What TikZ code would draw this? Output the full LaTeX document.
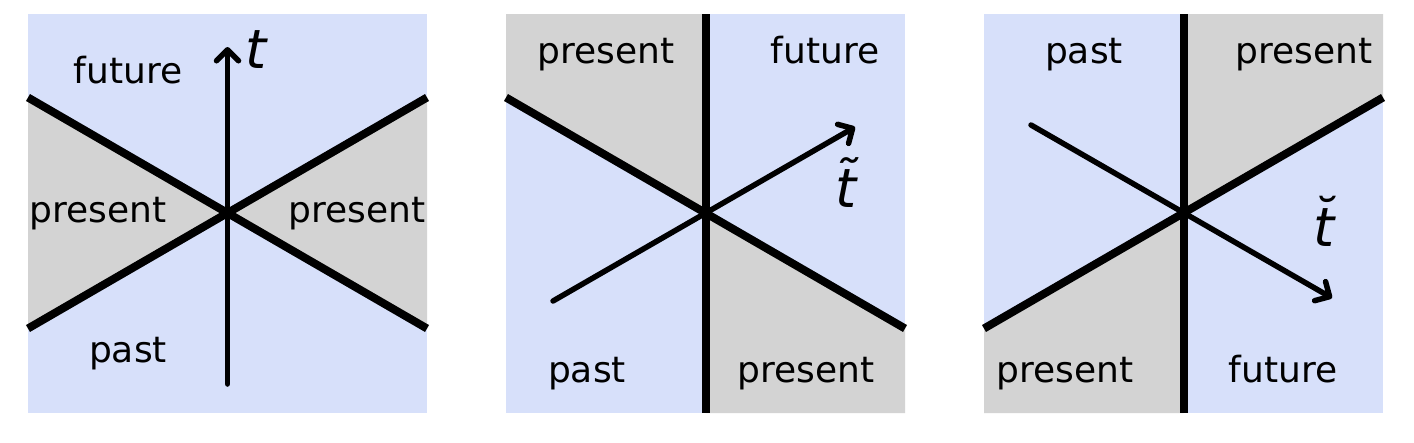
\documentclass[tikz,border=0pt]{standalone}
\usepackage{fontspec}
\setmainfont{DejaVu Sans}
\usetikzlibrary{arrows.meta}
\definecolor{skyb}{RGB}{215,224,250}
\definecolor{pres}{RGB}{211,211,211}
\tikzset{
  cone/.style={line width=8pt},
  axisarrow/.style={line width=5.5pt, line cap=round, -{Straight Barb[length=11pt,width=22pt,line cap=round,line join=round]}},
  lbl/.style={anchor=base, inner sep=0pt, font=\fontsize{36}{36}\selectfont},
  var/.style={anchor=base, inner sep=0pt, font=\fontsize{54}{54}\selectfont\itshape},
}
\begin{document}
\begin{tikzpicture}[x=1pt,y=-1pt]
\useasboundingbox (0,0) rectangle (1414,442);
% ---------- panel 1 ----------
\fill[skyb] (28,14) rectangle (427,413);
\fill[pres] (28,97.5) -- (227.5,213) -- (28,328.5) -- cycle;
\fill[pres] (427,97.5) -- (227.5,213) -- (427,328.5) -- cycle;
\coordinate (a1) at (28,97.5); \coordinate (a2) at (427,328.5);
\coordinate (b1) at (28,328.5); \coordinate (b2) at (427,97.5);
\draw[cone] (a1) -- (a2);
\draw[cone] (b1) -- (b2);
\coordinate (t0) at (227.5,384); \coordinate (t1) at (227.5,47);
\draw[axisarrow] (t0) -- (t1);
\node[lbl] (f1) at (128,83) {future};
\node[lbl] (p1l) at (98,222) {present};
\node[lbl] (p1r) at (357,222) {present};
\node[lbl] (pa1) at (128,362) {past};
\node[var] (tl1) at (256,68) {t};
% ---------- panel 2 ----------
\fill[skyb] (506,14) rectangle (905,413);
\fill[pres] (506,14) -- (705.5,14) -- (705.5,213) -- (506,97.5) -- cycle;
\fill[pres] (905,413) -- (705.5,413) -- (705.5,213) -- (905,328.5) -- cycle;
\coordinate (c1) at (506,97.5); \coordinate (c2) at (905,328.5);
\coordinate (v1) at (705.5,14); \coordinate (v2) at (705.5,413);
\draw[cone] (c1) -- (c2);
\draw[cone] (v1) -- (v2);
\coordinate (s0) at (553,301); \coordinate (s1) at (855,127);
\draw[axisarrow] (s0) -- (s1);
\node[lbl] (p2t) at (606,63) {present};
\node[lbl] (f2) at (825,63) {future};
\node[lbl] (pa2) at (587,382) {past};
\node[lbl] (p2b) at (806,382) {present};
\node[var] (tl2) at (846,207) {\~{t}};
% ---------- panel 3 ----------
\fill[skyb] (984,14) rectangle (1383,413);
\fill[pres] (1383,14) -- (1183.5,14) -- (1183.5,213) -- (1383,97.5) -- cycle;
\fill[pres] (984,413) -- (1183.5,413) -- (1183.5,213) -- (984,328.5) -- cycle;
\coordinate (d1) at (984,328.5); \coordinate (d2) at (1383,97.5);
\coordinate (w1) at (1183.5,14); \coordinate (w2) at (1183.5,413);
\draw[cone] (d1) -- (d2);
\draw[cone] (w1) -- (w2);
\coordinate (r0) at (1031,125); \coordinate (r1) at (1332,298);
\draw[axisarrow] (r0) -- (r1);
\node[lbl] (pa3) at (1084,63) {past};
\node[lbl] (p3t) at (1304,63) {present};
\node[lbl] (p3b) at (1065,382) {present};
\node[lbl] (f3) at (1283,382) {future};
\node[var] (tl3) at (1324,246) {\u{t}};
\end{tikzpicture}
\end{document}
